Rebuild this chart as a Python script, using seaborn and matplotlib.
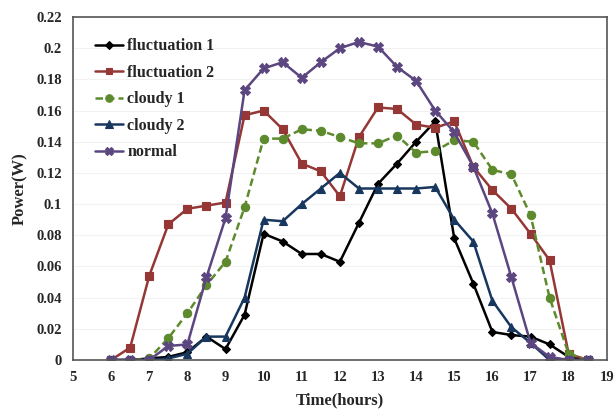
import numpy as np
import pandas as pd
import seaborn as sns
import matplotlib.pyplot as plt

# === Data ===
hours = [6, 6.5, 7, 7.5, 8, 8.5, 9, 9.5, 10, 10.5, 11, 11.5, 12, 12.5,
         13, 13.5, 14, 14.5, 15, 15.5, 16, 16.5, 17, 17.5, 18, 18.5]

fluctuation_1 = [0, 0, 0.001, 0.002, 0.005, 0.015, 0.007, 0.029, 0.081, 0.076, 0.068, 0.068, 0.063, 0.088,
                 0.113, 0.126, 0.140, 0.153, 0.078, 0.049, 0.018, 0.016, 0.015, 0.010, 0.002, 0]
fluctuation_2 = [0, 0.008, 0.054, 0.087, 0.097, 0.099, 0.101, 0.157, 0.160, 0.148, 0.126, 0.121, 0.105, 0.143,
                 0.162, 0.161, 0.151, 0.149, 0.153, 0.124, 0.109, 0.097, 0.081, 0.064, 0.004, 0]
cloudy_1 = [0, 0, 0.001, 0.014, 0.030, 0.048, 0.063, 0.098, 0.142, 0.142, 0.148, 0.147, 0.143, 0.139,
            0.139, 0.144, 0.133, 0.134, 0.141, 0.140, 0.122, 0.119, 0.093, 0.040, 0.004, 0]
cloudy_2 = [0, 0, 0, 0.001, 0.004, 0.015, 0.015, 0.040, 0.090, 0.089, 0.100, 0.110, 0.120, 0.110,
            0.110, 0.110, 0.110, 0.111, 0.090, 0.076, 0.038, 0.021, 0.011, 0, 0, 0]
normal = [0, 0, 0, 0.009, 0.010, 0.053, 0.091, 0.173, 0.187, 0.191, 0.181, 0.191, 0.200, 0.204,
          0.201, 0.188, 0.179, 0.160, 0.146, 0.124, 0.094, 0.053, 0.011, 0.002, 0, 0]

series_names = ["fluctuation 1", "fluctuation 2", "cloudy 1", "cloudy 2", "normal"]
series_values = [fluctuation_1, fluctuation_2, cloudy_1, cloudy_2, normal]

df = pd.DataFrame({
    "Time": np.tile(hours, len(series_names)),
    "Power": np.concatenate(series_values),
    "series": np.repeat(series_names, len(hours)),
})

colors = {"fluctuation 1": "#000000", "fluctuation 2": "#953735", "cloudy 1": "#5E8A2E",
          "cloudy 2": "#17375E", "normal": "#5B467F"}
markers = {"fluctuation 1": "D", "fluctuation 2": "s", "cloudy 1": "o",
           "cloudy 2": "^", "normal": "X"}
dashes = {"fluctuation 1": "", "fluctuation 2": "", "cloudy 1": (3, 1.6),
          "cloudy 2": "", "normal": ""}
msizes = {"fluctuation 1": 4, "fluctuation 2": 5.5, "cloudy 1": 6, "cloudy 2": 6, "normal": 6.5}

# === Plot ===
sns.set_style("white")
plt.rcParams['font.family'] = ['Liberation Serif', 'DejaVu Serif']
plt.rcParams['font.weight'] = 'bold'

fig = plt.figure(figsize=(6.16, 4.19), dpi=100)
ax = fig.add_axes([0.1185, 0.1408, 0.8665, 0.8186])

sns.lineplot(data=df, x="Time", y="Power", hue="series", style="series",
             palette=colors, markers=markers, dashes=dashes, sort=False,
             linewidth=1.8, markersize=5.5, markeredgewidth=0.8, ax=ax)

for line, name in zip(ax.lines, series_names):
    line.set_markersize(msizes[name])
    line.set_markeredgecolor(colors[name])

ax.set_xlim(5, 19)
ax.set_ylim(0, 0.22)
ax.set_xticks(range(5, 20))
ax.set_yticks(np.arange(0, 0.221, 0.02))
ax.set_yticklabels(["0"] + [f"{v:g}" for v in np.round(np.arange(0.02, 0.221, 0.02), 2)])
ax.tick_params(axis="both", labelsize=10.5, length=0, pad=8)
for lab in ax.get_xticklabels() + ax.get_yticklabels():
    lab.set_fontweight("bold")

ax.yaxis.grid(True, color="#f2f2f2", linewidth=0.8)
ax.set_axisbelow(True)
for sp in ax.spines.values():
    sp.set_color("#555555")
    sp.set_linewidth(1.2)

ax.set_xlabel("Time(hours)", fontsize=12, fontweight="bold", labelpad=6)
ax.set_ylabel("Power(W)", fontsize=12, fontweight="bold", labelpad=6)

leg = ax.legend(loc="upper left", bbox_to_anchor=(0.015, 0.98), frameon=False,
                prop={"weight": "bold", "size": 11.5}, handlelength=1.75,
                labelspacing=0.66, handletextpad=0.25)
for h, name in zip(leg.legend_handles, series_names):
    h.set_linewidth(1.8)
    h.set_markersize(msizes[name] * 0.9)
    h.set_markeredgecolor(colors[name])

plt.savefig("out.png", dpi=100)
plt.close()
